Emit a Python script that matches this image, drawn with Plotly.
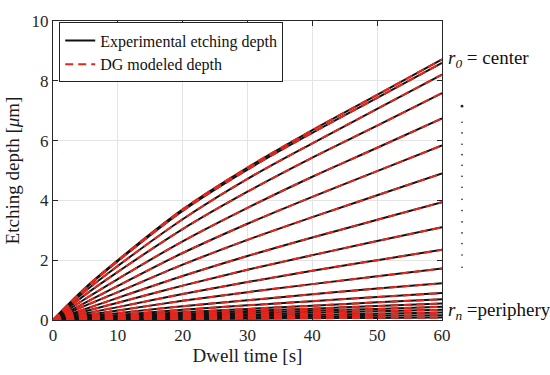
import plotly.graph_objects as go

# Dwell time samples [s]
dwell_time = [0, 5, 10, 20, 30, 40, 50, 60]

# Experimental etching depth [um] for radial positions r0 (center) ... rn (periphery)
depth_r00 = [0, 1.08, 2.00, 3.70, 5.10, 6.35, 7.53, 8.72]
depth_r01 = [0, 1.06, 1.97, 3.65, 5.03, 6.26, 7.43, 8.60]
depth_r02 = [0, 0.97, 1.81, 3.37, 4.72, 5.91, 7.06, 8.21]
depth_r03 = [0, 0.85, 1.61, 3.04, 4.29, 5.43, 6.50, 7.59]
depth_r04 = [0, 0.71, 1.37, 2.63, 3.75, 4.79, 5.76, 6.74]
depth_r05 = [0, 0.58, 1.14, 2.24, 3.22, 4.12, 4.98, 5.84]
depth_r06 = [0, 0.48, 0.93, 1.85, 2.68, 3.44, 4.17, 4.90]
depth_r07 = [0, 0.37, 0.74, 1.47, 2.14, 2.76, 3.35, 3.94]
depth_r08 = [0, 0.29, 0.58, 1.15, 1.68, 2.17, 2.64, 3.10]
depth_r09 = [0, 0.22, 0.43, 0.87, 1.27, 1.65, 2.00, 2.35]
depth_r10 = [0, 0.16, 0.32, 0.64, 0.93, 1.20, 1.46, 1.72]
depth_r11 = [0, 0.12, 0.23, 0.46, 0.66, 0.86, 1.05, 1.23]
depth_r12 = [0, 0.09, 0.17, 0.34, 0.49, 0.63, 0.77, 0.90]
depth_r13 = [0, 0.07, 0.13, 0.26, 0.37, 0.48, 0.59, 0.69]
depth_r14 = [0, 0.05, 0.10, 0.21, 0.30, 0.38, 0.47, 0.55]
depth_r15 = [0, 0.04, 0.08, 0.17, 0.24, 0.31, 0.37, 0.44]
depth_r16 = [0, 0.03, 0.07, 0.13, 0.18, 0.24, 0.29, 0.34]
depth_r17 = [0, 0.02, 0.05, 0.10, 0.14, 0.17, 0.21, 0.25]
depth_r18 = [0, 0.02, 0.03, 0.06, 0.09, 0.11, 0.14, 0.16]
depth_r19 = [0, 0.01, 0.02, 0.03, 0.04, 0.06, 0.07, 0.08]

experimental = [depth_r00, depth_r01, depth_r02, depth_r03, depth_r04, depth_r05,
                depth_r06, depth_r07, depth_r08, depth_r09, depth_r10, depth_r11,
                depth_r12, depth_r13, depth_r14, depth_r15, depth_r16, depth_r17,
                depth_r18, depth_r19]
# DG model overlays the experimental curves
modeled = experimental

x_ticks = [0, 10, 20, 30, 40, 50, 60]
y_ticks = [0, 2, 4, 6, 8, 10]

FONT = "Liberation Serif, Times New Roman, serif"
BLACK = "#111111"
RED = "#e5261d"

fig = go.Figure()
for i, ys in enumerate(experimental):
    fig.add_trace(go.Scatter(
        x=dwell_time, y=ys, mode="lines", line=dict(color=BLACK, width=2, shape="spline"),
        name="Experimental etching depth", showlegend=(i == 0), legendgroup="exp"))
for i, ys in enumerate(modeled):
    fig.add_trace(go.Scatter(
        x=dwell_time, y=ys, mode="lines",
        line=dict(color=RED, width=2, dash="8px,5px", shape="spline"),
        name="DG modeled depth", showlegend=(i == 0), legendgroup="dg"))

axis_common = dict(
    ticks="inside", ticklen=5, tickcolor="#262626", showline=True, mirror="ticks",
    linecolor="#262626", linewidth=1, showgrid=True, gridcolor="#e4e4e4",
    zeroline=False, tickfont=dict(family=FONT, size=17, color="#262626"),
)

fig.update_layout(
    width=550, height=375,
    margin=dict(l=53, r=108, t=14, b=53),
    paper_bgcolor="white", plot_bgcolor="white",
    font=dict(family=FONT, color="#1a1a1a"),
    xaxis=dict(range=[0, 60], tickvals=x_ticks,
               title=dict(text="Dwell time [s]", font=dict(family=FONT, size=19), standoff=4),
               **axis_common),
    yaxis=dict(range=[0, 10], tickvals=y_ticks,
               title=dict(text="Etching depth [<i>μ</i>m]", font=dict(family=FONT, size=19), standoff=6),
               **axis_common),
    legend=dict(x=0.016, y=0.995, xanchor="left", yanchor="top",
                bgcolor="white", bordercolor="#222222", borderwidth=1,
                font=dict(family=FONT, size=16, color="#111111"),
                tracegroupgap=0, itemwidth=30),
    showlegend=True,
)

fig.add_annotation(xref="paper", yref="paper", x=1.011, y=0.872, xanchor="left", yanchor="middle",
                   text="<i>r<sub>0</sub></i> = center", showarrow=False,
                   font=dict(family=FONT, size=19, color="#111111"))
fig.add_annotation(xref="paper", yref="paper", x=1.011, y=0.030, xanchor="left", yanchor="middle",
                   text="<i>r<sub>n</sub></i> =periphery", showarrow=False,
                   font=dict(family=FONT, size=19, color="#111111"))

# vertical ellipsis dots between the two labels
dot_rows = [101.7, 118.3, 129.3, 141, 151.7, 162.7, 174, 185.3, 197.7, 209.3, 221, 232.3, 243.3, 255, 267.7]
for k, py in enumerate(dot_rows):
    yp = (322 - py) / 308
    xp = (462 - 53) / 389
    r = 0.0035 if k == 0 else 0.0022
    fig.add_shape(type="circle", xref="paper", yref="paper",
                  x0=xp - r, x1=xp + r, y0=yp - r * 389 / 308, y1=yp + r * 389 / 308,
                  fillcolor="#222222", line=dict(width=0))

fig.write_html("out.html")
